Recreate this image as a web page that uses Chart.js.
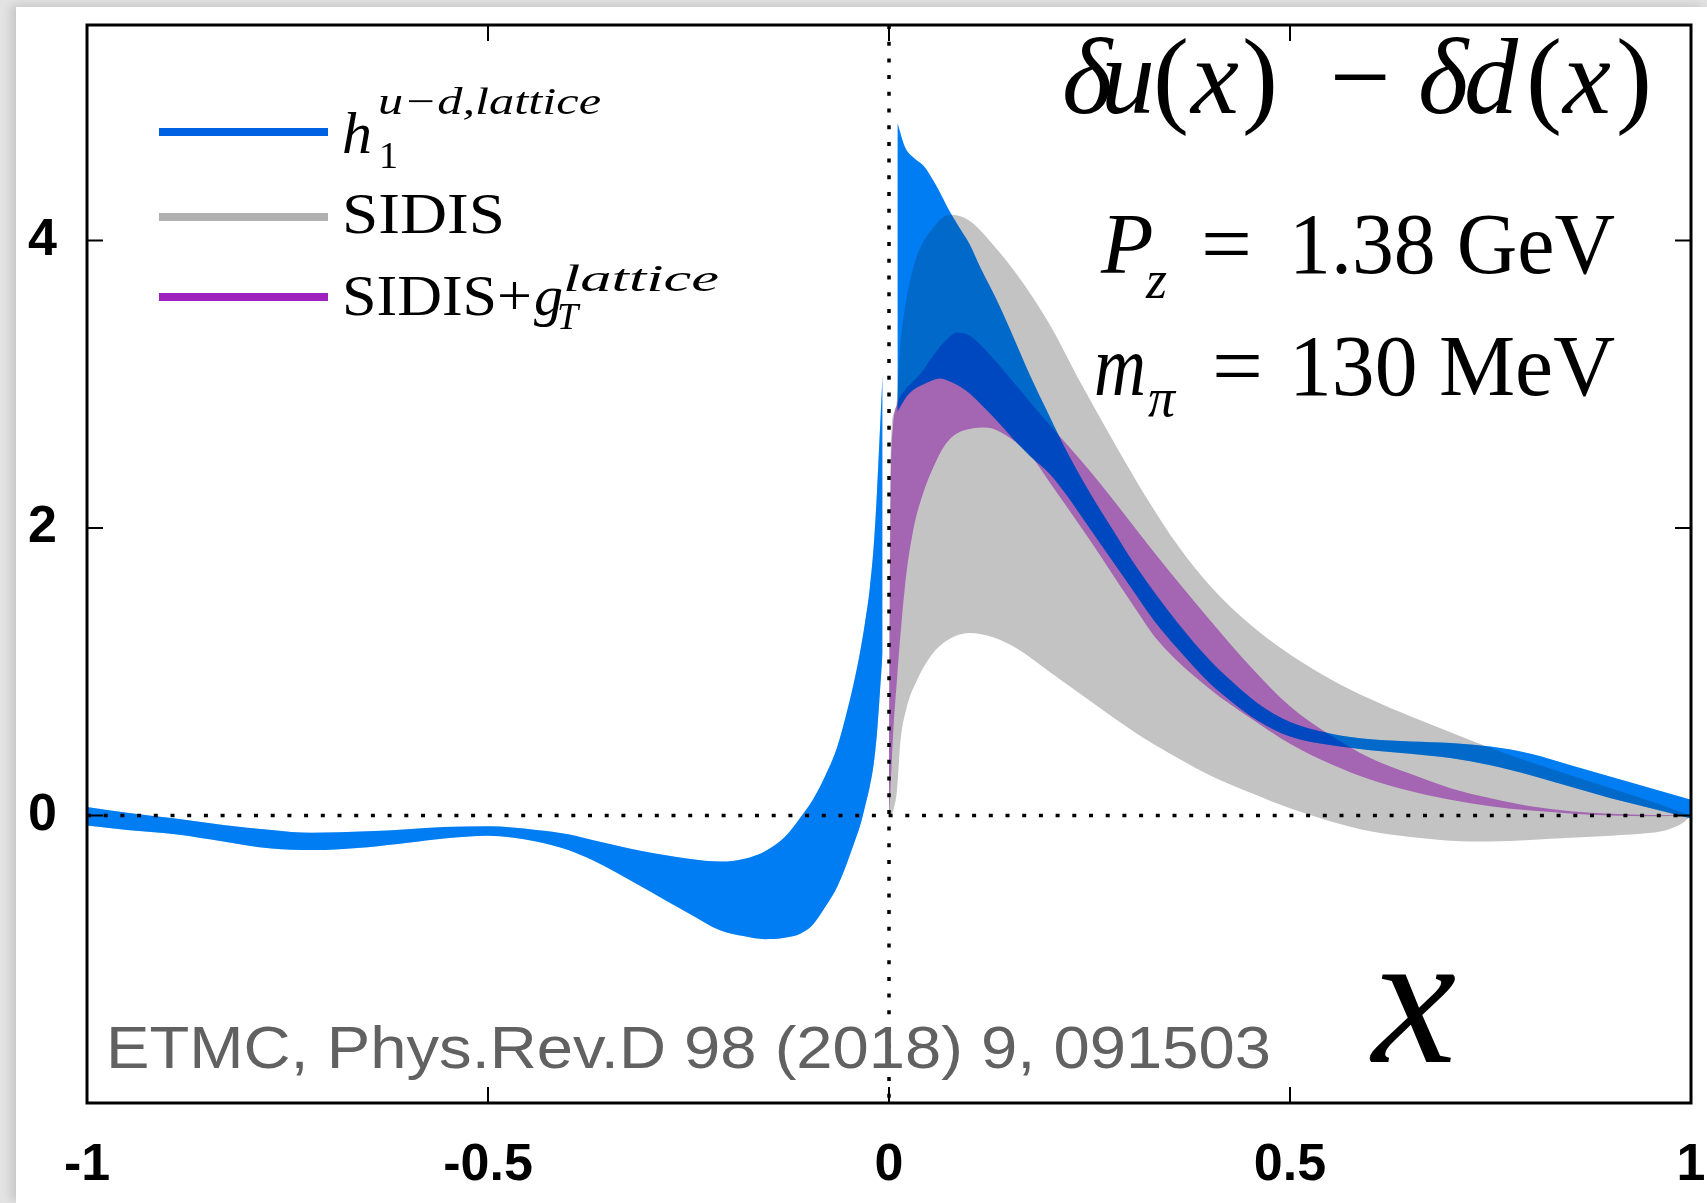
<!DOCTYPE html>
<html><head><meta charset="utf-8">
<script src="https://cdn.jsdelivr.net/npm/chart.js@4.4.1/dist/chart.umd.min.js"></script>
<style>
html,body{margin:0;padding:0;width:1707px;height:1203px;overflow:hidden;background:#e3e3e3;}
#paper{position:absolute;left:16px;top:7px;width:1691px;height:1196px;background:#fff;box-shadow:-5px -2px 9px rgba(0,0,0,0.13);}
#c{position:absolute;left:0;top:0;}
</style></head><body>
<div id="paper"></div>
<canvas id="c" width="1707" height="1203"></canvas>
<script>
// ---- axis ticks ----
const xTicks = [-1, -0.5, 0, 0.5, 1];
const xTickLabels = ['-1', '-0.5', '0', '0.5', '1'];
const yTicks = [0, 2, 4];
const yTickLabels = ['0', '2', '4'];
const yMarks = [-2, 0, 2, 4];

// ---- lattice band (h1 u-d), x < 0 part ----
const latticeNegX = [-1, -0.95, -0.89, -0.83, -0.77, -0.72, -0.65, -0.6, -0.555, -0.5, -0.44, -0.4, -0.37, -0.31, -0.25, -0.21, -0.18, -0.155, -0.13, -0.11, -0.095, -0.08, -0.065, -0.053, -0.044, -0.036, -0.03, -0.024, -0.019, -0.015, -0.012, -0.008];
const latticeNegUpper = [0.06, 0.02, -0.02, -0.065, -0.1, -0.12, -0.11, -0.095, -0.08, -0.075, -0.1, -0.13, -0.17, -0.245, -0.3, -0.32, -0.3, -0.25, -0.15, -0.01, 0.11, 0.27, 0.47, 0.71, 0.92, 1.14, 1.34, 1.58, 1.88, 2.25, 2.6, 3.07];
const latticeNegLower = [-0.07, -0.1, -0.13, -0.18, -0.23, -0.24, -0.22, -0.19, -0.16, -0.14, -0.18, -0.24, -0.31, -0.49, -0.68, -0.8, -0.84, -0.86, -0.85, -0.82, -0.76, -0.64, -0.5, -0.34, -0.2, -0.07, 0.06, 0.2, 0.36, 0.57, 0.8, 1.13];

// ---- lattice band, x > 0 part ----
const latticePosX = [0.0105, 0.02, 0.03, 0.043, 0.055, 0.064, 0.076, 0.09, 0.1, 0.115, 0.134, 0.155, 0.176, 0.2, 0.22, 0.25, 0.28, 0.3, 0.33, 0.36, 0.4, 0.43, 0.46, 0.5, 0.55, 0.6, 0.65, 0.7, 0.75, 0.8, 0.85, 0.9, 0.95, 1.0];
const latticePosUpper = [4.82, 4.65, 4.58, 4.52, 4.42, 4.33, 4.2, 4.07, 3.98, 3.8, 3.59, 3.33, 3.06, 2.78, 2.55, 2.25, 1.98, 1.8, 1.56, 1.34, 1.08, 0.92, 0.78, 0.65, 0.57, 0.53, 0.515, 0.505, 0.48, 0.43, 0.35, 0.27, 0.19, 0.11];
const latticePosLower = [2.81, 2.9, 2.96, 3.0, 3.03, 3.04, 3.02, 2.98, 2.94, 2.86, 2.75, 2.62, 2.5, 2.38, 2.24, 2.0, 1.76, 1.6, 1.36, 1.16, 0.92, 0.78, 0.66, 0.55, 0.49, 0.455, 0.43, 0.40, 0.35, 0.28, 0.2, 0.12, 0.05, -0.02];

// ---- SIDIS band ----
const sidisX = [0, 0.002, 0.006, 0.01, 0.014, 0.022, 0.034, 0.055, 0.076, 0.1, 0.13, 0.16, 0.2, 0.24, 0.28, 0.32, 0.36, 0.4, 0.45, 0.5, 0.55, 0.6, 0.65, 0.7, 0.75, 0.8, 0.85, 0.9, 0.95, 0.97, 0.99, 1.0];
const sidisUpper = [0, 2.5, 2.8, 2.9, 3.26, 3.6, 3.88, 4.09, 4.18, 4.14, 3.97, 3.76, 3.42, 3.0, 2.6, 2.22, 1.88, 1.6, 1.33, 1.12, 0.95, 0.81, 0.69, 0.58, 0.47, 0.37, 0.28, 0.19, 0.1, 0.06, 0.02, 0.0];
const sidisLower = [0, 0.0, 0.05, 0.18, 0.5, 0.75, 0.93, 1.13, 1.23, 1.27, 1.24, 1.16, 1.0, 0.84, 0.68, 0.53, 0.4, 0.28, 0.16, 0.05, -0.04, -0.11, -0.15, -0.175, -0.18, -0.17, -0.155, -0.14, -0.12, -0.1, -0.05, 0.0];

// ---- SIDIS + gT lattice band ----
const sidisGtX = [0, 0.002, 0.005, 0.01, 0.02, 0.03, 0.043, 0.055, 0.07, 0.085, 0.1, 0.12, 0.15, 0.18, 0.2, 0.25, 0.3, 0.335, 0.4, 0.45, 0.5, 0.55, 0.6, 0.65, 0.7, 0.75, 0.8, 0.85, 0.9, 0.95, 1.0];
const sidisGtUpper = [0, 2.2, 2.7, 2.86, 2.96, 3.02, 3.1, 3.2, 3.3, 3.36, 3.34, 3.24, 3.05, 2.85, 2.72, 2.4, 2.05, 1.8, 1.36, 1.04, 0.76, 0.56, 0.4, 0.29, 0.19, 0.12, 0.065, 0.03, 0.012, 0.004, 0];
const sidisGtLower = [0, 0.2, 0.55, 0.95, 1.6, 1.98, 2.25, 2.42, 2.58, 2.66, 2.69, 2.7, 2.63, 2.48, 2.32, 1.92, 1.5, 1.22, 0.88, 0.68, 0.5, 0.36, 0.25, 0.17, 0.11, 0.065, 0.035, 0.015, 0.0, -0.005, 0];

const COL_BLUE = 'rgb(0,125,242)';
const COL_BLUE_WASH = 'rgba(0,125,242,0.3)';
const COL_GRAY = 'rgb(195,195,195)';
const COL_PURPLE = 'rgb(164,101,178)';

const pts = (xs, ys) => xs.map((x, i) => ({x: x, y: ys[i]}));
function band(xs, up, lo, color, order, extraLow) {
  const common = {pointRadius: 0, borderWidth: 0, cubicInterpolationMode: 'monotone', showLine: true};
  return [
    Object.assign({}, common, {data: pts(xs, up), fill: '+1', backgroundColor: color, order: order}),
    Object.assign({}, common, {data: pts(xs, lo), fill: false, order: order - 1}, extraLow || {})
  ];
}

const datasets = [].concat(
  band(sidisX, sidisUpper, sidisLower, COL_GRAY, 24),
  band(sidisGtX, sidisGtUpper, sidisGtLower, COL_PURPLE, 22, {blendAfter: 'multiply'}),
  band(latticeNegX, latticeNegUpper, latticeNegLower, COL_BLUE, 20),
  band(latticePosX, latticePosUpper, latticePosLower, COL_BLUE, 18, {blendAfter: 'source-over'}),
  band(latticeNegX, latticeNegUpper, latticeNegLower, COL_BLUE_WASH, 16),
  band(latticePosX, latticePosUpper, latticePosLower, COL_BLUE_WASH, 14)
);

const SERIF = '"Liberation Serif", "DejaVu Serif", serif';
const SANS = '"Liberation Sans", Arial, sans-serif';

function txt(ctx, s, x, y, font, opt) {
  opt = opt || {};
  ctx.save();
  ctx.font = font;
  ctx.fillStyle = opt.color || '#000';
  ctx.textBaseline = 'alphabetic';
  ctx.textAlign = 'left';
  const w = ctx.measureText(s).width;
  const sx = opt.width ? opt.width / w : 1;
  const x0 = opt.center ? x - w * sx / 2 : x;
  ctx.translate(x0, y);
  ctx.scale(sx, 1);
  ctx.fillText(s, 0, 0);
  ctx.restore();
}

const decor = {
  id: 'decor',
  afterDatasetDraw(chart, args) {
    const ds = chart.data.datasets[args.index];
    if (ds.blendAfter) chart.ctx.globalCompositeOperation = ds.blendAfter;
  },
  afterDatasetsDraw(chart) {
    const ctx = chart.ctx;
    ctx.globalCompositeOperation = 'source-over';
    const a = chart.chartArea;
    const xs = chart.scales.x, ys = chart.scales.y;
    const x0 = xs.getPixelForValue(0), y0 = ys.getPixelForValue(0);
    ctx.save();
    ctx.strokeStyle = '#000';
    ctx.lineWidth = 3.5;
    ctx.setLineDash([4, 12.7]);
    ctx.beginPath(); ctx.moveTo(a.left, y0); ctx.lineTo(a.right, y0); ctx.stroke();
    ctx.beginPath(); ctx.moveTo(x0, a.top); ctx.lineTo(x0, a.bottom); ctx.stroke();
    ctx.restore();
    // frame
    ctx.save();
    ctx.strokeStyle = '#000';
    ctx.lineWidth = 3;
    ctx.strokeRect(a.left, a.top, a.right - a.left, a.bottom - a.top);
    ctx.lineWidth = 2;
    const TL = 16;
    ctx.beginPath();
    xTicks.forEach(v => {
      const p = xs.getPixelForValue(v);
      ctx.moveTo(p, a.bottom); ctx.lineTo(p, a.bottom - TL);
      ctx.moveTo(p, a.top); ctx.lineTo(p, a.top + TL);
    });
    yMarks.forEach(v => {
      const p = ys.getPixelForValue(v);
      ctx.moveTo(a.left, p); ctx.lineTo(a.left + TL, p);
      ctx.moveTo(a.right, p); ctx.lineTo(a.right - TL, p);
    });
    ctx.stroke();
    ctx.restore();
  },
  afterDraw(chart) {
    const ctx = chart.ctx;
    // legend lines
    const legendColors = ['rgb(0,98,226)', 'rgb(176,176,176)', 'rgb(160,34,190)'];
    const legendY = [132, 217, 297];
    ctx.save();
    ctx.lineWidth = 8;
    legendColors.forEach((c, i) => {
      ctx.strokeStyle = c;
      ctx.beginPath(); ctx.moveTo(159, legendY[i]); ctx.lineTo(328, legendY[i]); ctx.stroke();
    });
    ctx.restore();
    // legend texts
    txt(ctx, 'h', 342, 153, 'italic 60px ' + SERIF);
    txt(ctx, 'u\u2212d,lattice', 378, 114, 'italic 38px ' + SERIF, {width: 223});
    txt(ctx, '1', 379, 168, '38px ' + SERIF);
    txt(ctx, 'SIDIS', 342, 233, '58px ' + SERIF, {width: 163});
    txt(ctx, 'SIDIS+', 342, 315, '58px ' + SERIF, {width: 190});
    txt(ctx, 'g', 534, 315, 'italic 58px ' + SERIF);
    txt(ctx, 'lattice', 563, 291, 'italic 38px ' + SERIF, {width: 156});
    txt(ctx, 'T', 557, 329, 'italic 38px ' + SERIF);

    // title (pieces centred on measured glyph centres)
    const tf = 108;
    const titlePieces = [['\u03b4', 1087, 1], ['u', 1128, 1], ['(', 1171, 0], ['x', 1215, 1], [')', 1260, 0], ['\u2212', 1360, 0], ['\u03b4', 1443, 1], ['d', 1491, 1], ['(', 1544, 0], ['x', 1587, 1], [')', 1634, 0]];
    titlePieces.forEach(p => txt(ctx, p[0], p[1], 113, (p[2] ? 'italic ' : '') + tf + 'px ' + SERIF, {center: true}));

    // parameters
    txt(ctx, 'P', 1101, 273, 'italic 86px ' + SERIF);
    txt(ctx, 'z', 1146, 298, 'italic 54px ' + SERIF);
    txt(ctx, '=', 1201, 273, '86px ' + SERIF, {width: 51});
    txt(ctx, '1.38 GeV', 1289, 273, '86px ' + SERIF, {width: 326});
    txt(ctx, 'm', 1094, 395, 'italic 86px ' + SERIF, {width: 52});
    txt(ctx, '\u03c0', 1148, 416, 'italic 54px ' + SERIF);
    txt(ctx, '=', 1212, 395, '86px ' + SERIF, {width: 51});
    txt(ctx, '130 MeV', 1289, 395, '86px ' + SERIF, {width: 326});

    // reference
    txt(ctx, 'ETMC, Phys.Rev.D 98 (2018) 9, 091503', 106, 1068, '60px ' + SANS, {color: '#616161', width: 1165});
    // axis label
    txt(ctx, 'x', 1372, 1062, 'italic 190px ' + SERIF);
  }
};

new Chart(document.getElementById('c'), {
  type: 'line',
  data: {datasets: datasets},
  options: {
    responsive: false,
    animation: false,
    devicePixelRatio: 1,
    layout: {padding: {top: 25, right: 16, left: 0, bottom: 0}},
    plugins: {legend: {display: false}, tooltip: {enabled: false}},
    scales: {
      x: {
        type: 'linear', position: 'bottom', min: -1, max: 1,
        afterBuildTicks: s => { s.ticks = xTicks.map(v => ({value: v})); },
        afterFit: s => { s.height = 100; s.paddingLeft = 0; s.paddingRight = 0; s.paddingTop = 0; s.paddingBottom = 0; },
        grid: {display: false, drawTicks: false}, border: {display: false},
        ticks: {
          autoSkip: false, maxRotation: 0, padding: 31, color: '#000',
          font: {family: 'Liberation Sans', size: 52, weight: 'bold'},
          callback: (v, i) => xTickLabels[i]
        }
      },
      y: {
        type: 'linear', position: 'left', min: -2, max: 5.5,
        afterBuildTicks: s => { s.ticks = yTicks.map(v => ({value: v})); },
        afterFit: s => { s.width = 87; s.paddingLeft = 0; s.paddingRight = 0; s.paddingTop = 0; s.paddingBottom = 0; },
        grid: {display: false, drawTicks: false}, border: {display: false},
        ticks: {
          padding: 30, color: '#000',
          font: {family: 'Liberation Sans', size: 52, weight: 'bold'},
          callback: (v, i) => yTickLabels[i]
        }
      }
    }
  },
  plugins: [decor]
});
</script>
</body></html>
